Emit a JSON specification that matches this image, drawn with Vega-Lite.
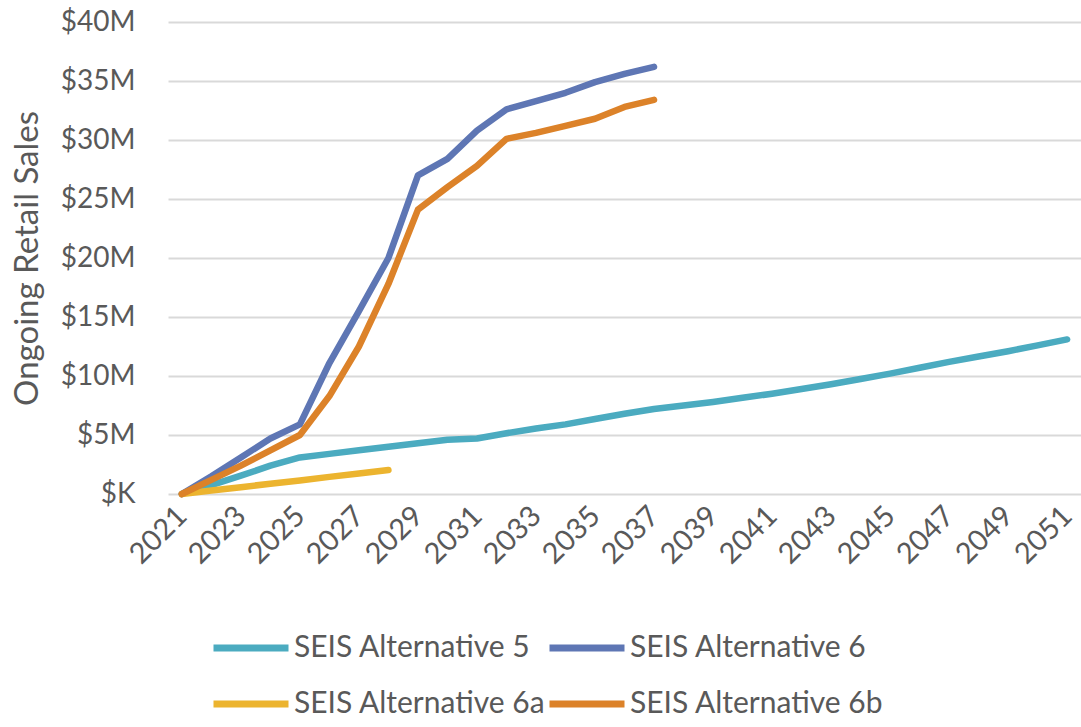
{
  "$schema": "https://vega.github.io/schema/vega-lite/v6.json",
  "autosize": "none",
  "width": 913,
  "height": 472,
  "padding": {"left": 168, "top": 22, "right": 0, "bottom": 233},
  "background": "white",
  "config": {
    "font": "Lato",
    "view": {"stroke": null},
    "axis": {"labelColor": "#595959", "titleColor": "#595959", "labelFont": "Lato", "titleFont": "Lato"},
    "legend": {"labelColor": "#595959", "labelFont": "Lato"}
  },
  "data": {
    "values": [
      {"year": 2021, "series": "SEIS Alternative 5", "sales": 0},
      {"year": 2022, "series": "SEIS Alternative 5", "sales": 750000},
      {"year": 2023, "series": "SEIS Alternative 5", "sales": 1550000},
      {"year": 2024, "series": "SEIS Alternative 5", "sales": 2400000},
      {"year": 2025, "series": "SEIS Alternative 5", "sales": 3100000},
      {"year": 2026, "series": "SEIS Alternative 5", "sales": 3400000},
      {"year": 2027, "series": "SEIS Alternative 5", "sales": 3700000},
      {"year": 2028, "series": "SEIS Alternative 5", "sales": 4000000},
      {"year": 2029, "series": "SEIS Alternative 5", "sales": 4300000},
      {"year": 2030, "series": "SEIS Alternative 5", "sales": 4600000},
      {"year": 2031, "series": "SEIS Alternative 5", "sales": 4700000},
      {"year": 2032, "series": "SEIS Alternative 5", "sales": 5150000},
      {"year": 2033, "series": "SEIS Alternative 5", "sales": 5550000},
      {"year": 2034, "series": "SEIS Alternative 5", "sales": 5900000},
      {"year": 2035, "series": "SEIS Alternative 5", "sales": 6350000},
      {"year": 2036, "series": "SEIS Alternative 5", "sales": 6800000},
      {"year": 2037, "series": "SEIS Alternative 5", "sales": 7200000},
      {"year": 2038, "series": "SEIS Alternative 5", "sales": 7500000},
      {"year": 2039, "series": "SEIS Alternative 5", "sales": 7800000},
      {"year": 2040, "series": "SEIS Alternative 5", "sales": 8150000},
      {"year": 2041, "series": "SEIS Alternative 5", "sales": 8500000},
      {"year": 2042, "series": "SEIS Alternative 5", "sales": 8900000},
      {"year": 2043, "series": "SEIS Alternative 5", "sales": 9300000},
      {"year": 2044, "series": "SEIS Alternative 5", "sales": 9750000},
      {"year": 2045, "series": "SEIS Alternative 5", "sales": 10200000},
      {"year": 2046, "series": "SEIS Alternative 5", "sales": 10700000},
      {"year": 2047, "series": "SEIS Alternative 5", "sales": 11200000},
      {"year": 2048, "series": "SEIS Alternative 5", "sales": 11650000},
      {"year": 2049, "series": "SEIS Alternative 5", "sales": 12100000},
      {"year": 2050, "series": "SEIS Alternative 5", "sales": 12600000},
      {"year": 2051, "series": "SEIS Alternative 5", "sales": 13100000},

      {"year": 2021, "series": "SEIS Alternative 6", "sales": 0},
      {"year": 2022, "series": "SEIS Alternative 6", "sales": 1500000},
      {"year": 2023, "series": "SEIS Alternative 6", "sales": 3100000},
      {"year": 2024, "series": "SEIS Alternative 6", "sales": 4700000},
      {"year": 2025, "series": "SEIS Alternative 6", "sales": 5900000},
      {"year": 2026, "series": "SEIS Alternative 6", "sales": 11100000},
      {"year": 2027, "series": "SEIS Alternative 6", "sales": 15500000},
      {"year": 2028, "series": "SEIS Alternative 6", "sales": 20000000},
      {"year": 2029, "series": "SEIS Alternative 6", "sales": 27000000},
      {"year": 2030, "series": "SEIS Alternative 6", "sales": 28400000},
      {"year": 2031, "series": "SEIS Alternative 6", "sales": 30800000},
      {"year": 2032, "series": "SEIS Alternative 6", "sales": 32600000},
      {"year": 2033, "series": "SEIS Alternative 6", "sales": 33300000},
      {"year": 2034, "series": "SEIS Alternative 6", "sales": 34000000},
      {"year": 2035, "series": "SEIS Alternative 6", "sales": 34900000},
      {"year": 2036, "series": "SEIS Alternative 6", "sales": 35600000},
      {"year": 2037, "series": "SEIS Alternative 6", "sales": 36200000},

      {"year": 2021, "series": "SEIS Alternative 6a", "sales": 0},
      {"year": 2022, "series": "SEIS Alternative 6a", "sales": 300000},
      {"year": 2023, "series": "SEIS Alternative 6a", "sales": 580000},
      {"year": 2024, "series": "SEIS Alternative 6a", "sales": 870000},
      {"year": 2025, "series": "SEIS Alternative 6a", "sales": 1150000},
      {"year": 2026, "series": "SEIS Alternative 6a", "sales": 1450000},
      {"year": 2027, "series": "SEIS Alternative 6a", "sales": 1740000},
      {"year": 2028, "series": "SEIS Alternative 6a", "sales": 2030000},

      {"year": 2021, "series": "SEIS Alternative 6b", "sales": 0},
      {"year": 2022, "series": "SEIS Alternative 6b", "sales": 1200000},
      {"year": 2023, "series": "SEIS Alternative 6b", "sales": 2400000},
      {"year": 2024, "series": "SEIS Alternative 6b", "sales": 3700000},
      {"year": 2025, "series": "SEIS Alternative 6b", "sales": 5000000},
      {"year": 2026, "series": "SEIS Alternative 6b", "sales": 8300000},
      {"year": 2027, "series": "SEIS Alternative 6b", "sales": 12500000},
      {"year": 2028, "series": "SEIS Alternative 6b", "sales": 17800000},
      {"year": 2029, "series": "SEIS Alternative 6b", "sales": 24100000},
      {"year": 2030, "series": "SEIS Alternative 6b", "sales": 26000000},
      {"year": 2031, "series": "SEIS Alternative 6b", "sales": 27800000},
      {"year": 2032, "series": "SEIS Alternative 6b", "sales": 30100000},
      {"year": 2033, "series": "SEIS Alternative 6b", "sales": 30600000},
      {"year": 2034, "series": "SEIS Alternative 6b", "sales": 31200000},
      {"year": 2035, "series": "SEIS Alternative 6b", "sales": 31800000},
      {"year": 2036, "series": "SEIS Alternative 6b", "sales": 32800000},
      {"year": 2037, "series": "SEIS Alternative 6b", "sales": 33400000}
    ]
  },
  "mark": {"type": "line", "strokeWidth": 6.5, "strokeCap": "round", "strokeJoin": "round"},
  "encoding": {
    "x": {
      "field": "year",
      "type": "ordinal",
      "scale": {"type": "point", "padding": 0.47},
      "axis": {
        "title": null,
        "values": [2021, 2023, 2025, 2027, 2029, 2031, 2033, 2035, 2037, 2039, 2041, 2043, 2045, 2047, 2049, 2051],
        "labelAngle": -45,
        "labelAlign": "right",
        "labelBaseline": "middle",
        "labelFontSize": 29,
        "labelPadding": 17,
        "domain": false,
        "ticks": false,
        "grid": false
      }
    },
    "y": {
      "field": "sales",
      "type": "quantitative",
      "scale": {"domain": [0, 40000000], "nice": false},
      "axis": {
        "title": "Ongoing Retail Sales",
        "values": [0, 5000000, 10000000, 15000000, 20000000, 25000000, 30000000, 35000000, 40000000],
        "labelExpr": "datum.value == 0 ? '$K' : '$' + (datum.value / 1000000) + 'M'",
        "labelFontSize": 28,
        "labelPadding": 33,
        "labelBaseline": "middle",
        "titleFontSize": 33,
        "titleFontWeight": "normal",
        "titleAngle": 270,
        "titleX": -141,
        "titleY": 236,
        "titleAlign": "center",
        "titleBaseline": "middle",
        "domain": false,
        "ticks": false,
        "grid": true,
        "gridColor": "#D9D9D9",
        "gridWidth": 2
      }
    },
    "color": {
      "field": "series",
      "type": "nominal",
      "scale": {
        "domain": ["SEIS Alternative 5", "SEIS Alternative 6", "SEIS Alternative 6a", "SEIS Alternative 6b"],
        "range": ["#4BABC0", "#5E76B4", "#ECB42F", "#DC8229"]
      },
      "legend": {
        "title": null,
        "orient": "none",
        "legendX": 42,
        "legendY": 585,
        "direction": "horizontal",
        "columns": 2,
        "columnPadding": -55,
        "rowPadding": -18,
        "symbolType": "stroke",
        "symbolSize": 5625,
        "symbolStrokeWidth": 7,
        "labelFontSize": 30,
        "labelOffset": 2,
        "labelLimit": 400
      }
    }
  }
}
